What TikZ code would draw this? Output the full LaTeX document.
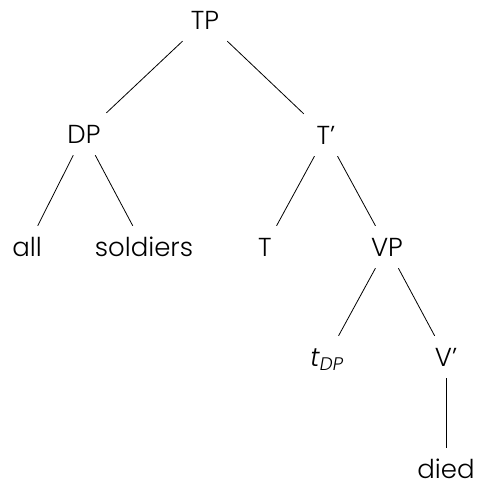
\documentclass[tikz,border=0pt]{standalone}
\usepackage{fontspec}
\setmainfont{Poppins Light}

\tikzset{
  cat/.style={inner sep=0pt, minimum width=48pt, minimum height=42pt,
    text height=19pt, text depth=0pt, font=\fontsize{26}{30}\selectfont},
  branch/.style={line width=0.8pt}
}

\begin{document}
\begin{tikzpicture}[x=1pt,y=-1pt]
\useasboundingbox (0,0) rectangle (480,484);

\node[cat] (tp) at (205,20) {TP};
\node[cat] (dp) at (84,134) {DP};
\node[cat] (tbar) at (326,135) {T’};

\node[cat] (all) at (27,247) {all};
\node[cat] (sold) at (144,247) {soldiers};
\node[cat] (t) at (265,247) {T};
\node[cat] (vp) at (387,247) {VP};

\node[cat] (trace) at (327,357) {\textit{t}\textsubscript{\textit{DP}}};
\node[cat] (vbar) at (446,357) {V’};

\node[cat] (died) at (446,469) {died};

\draw[branch] (tp) -- (dp);
\draw[branch] (tp) -- (tbar);
\draw[branch] (dp) -- (all);
\draw[branch] (dp) -- (sold);
\draw[branch] (tbar) -- (t);
\draw[branch] (tbar) -- (vp);
\draw[branch] (vp) -- (trace);
\draw[branch] (vp) -- (vbar);
\draw[branch] (vbar) -- (died);
\end{tikzpicture}
\end{document}
